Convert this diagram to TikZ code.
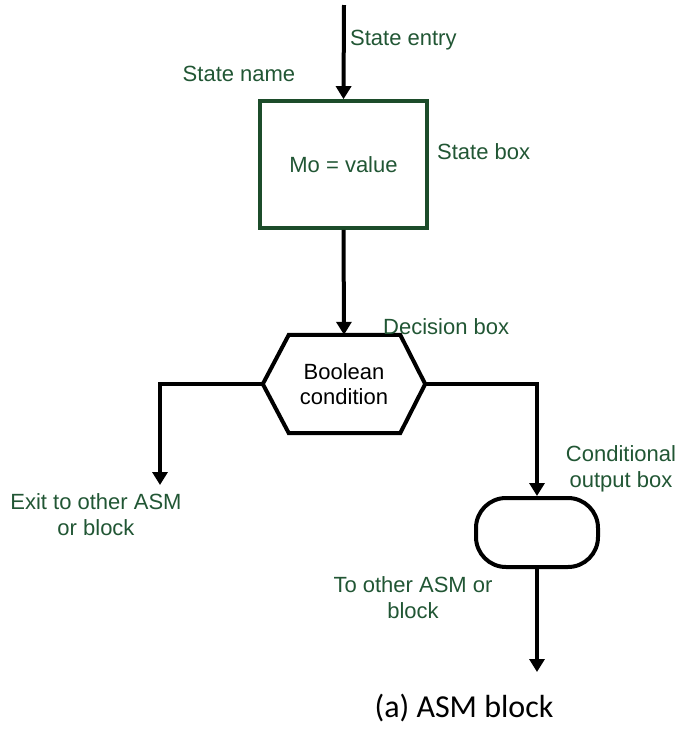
\documentclass[tikz,border=0pt]{standalone}
\usepackage{fontspec}
\setmainfont{Liberation Sans}
\newfontfamily\captionfont{Carlito}
\usetikzlibrary{arrows.meta,calc}

\definecolor{labelgreen}{RGB}{33,86,52}
\definecolor{boxgreen}{RGB}{28,76,42}

\begin{document}
\begin{tikzpicture}[x=1pt,y=-1pt,
  label/.style={text=labelgreen,font=\fontsize{22}{26}\selectfont,inner sep=0pt,align=center},
  flow/.style={line width=4pt,-{Triangle[length=13pt,width=15pt]}},
  statebox/.style={draw=boxgreen,line width=3.6pt,minimum width=167pt,minimum height=127pt,
                   inner sep=0pt,font=\fontsize{22}{26}\selectfont,text=labelgreen},
  condbox/.style={draw,line width=4pt,rounded corners=30pt,minimum width=122pt,
                  minimum height=69pt,inner sep=0pt}]

  \useasboundingbox (0,0) rectangle (676,729);

  % state box
  \node[statebox] (sbox) at (343.5,164.5) {Mo = value};

  % decision box frame (hexagon drawn around an invisible node)
  \node[minimum width=162pt,minimum height=98pt,inner sep=0pt,align=center,
        font=\fontsize{22}{25}\selectfont] (dec) at (344,384) {Boolean\\condition};
  \draw[line width=4pt,line join=miter]
    (dec.west) -- ($(dec.north west)+(26,0)$) -- ($(dec.north east)+(-25,0)$)
    -- (dec.east) -- ($(dec.south east)+(-25,0)$) -- ($(dec.south west)+(26,0)$) -- cycle;

  % conditional output box
  \node[condbox] (cbox) at (537,532.5) {};

  % free ends
  \coordinate (entry) at (344,5);
  \coordinate (exitL) at (160,485);
  \coordinate (exitR) at (537,672);

  % connectors
  \draw[flow] (entry) -- (sbox.north);
  \draw[flow] (sbox.south) -- (dec.north);
  \draw[flow] (dec.west) -| (exitL);
  \draw[flow] (dec.east) -| (cbox.north);
  \draw[flow] (cbox.south) -- (exitR);

  % labels
  \node[label,anchor=west] (lentry) at (350,40) {State entry};
  \node[label] (lname) at (239,74) {State name};
  \node[label,anchor=west] (lbox) at (437,152) {State box};
  \node[label,anchor=west] (ldec) at (383,327) {Decision box};
  \node[label] (lexit) at (96,515) {Exit to other ASM\\or block};
  \node[label] (lcond) at (621,469) {Conditional\\output box};
  \node[label] (lother) at (413,598) {To other ASM or\\block};

  % caption
  \node[anchor=base,inner sep=0pt,font=\captionfont\fontsize{32}{36}\selectfont] (cap)
    at (464,717) {(a) ASM block};
\end{tikzpicture}
\end{document}
